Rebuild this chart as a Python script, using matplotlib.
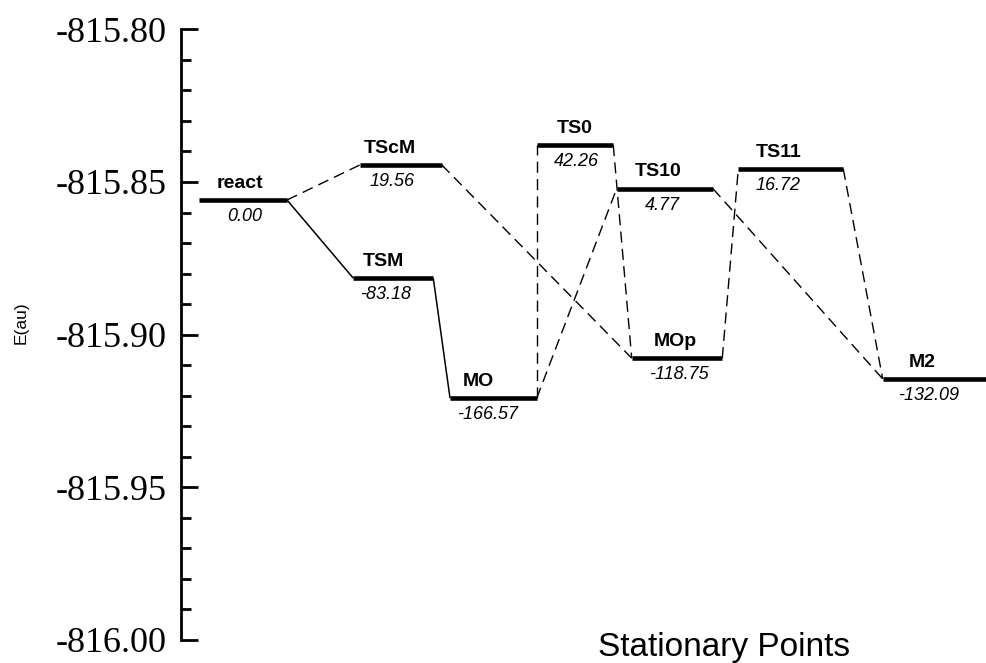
import matplotlib
matplotlib.use("Agg")
from matplotlib import pyplot as plt
from matplotlib.ticker import MultipleLocator, FuncFormatter

# stationary points (absolute energy in au, relative energy label)
names = ["react", "TScM", "TSM", "MO", "TS0", "TS10", "MOp", "TS11", "M2"]
energy = [-815.8559, -815.8444, -815.8815, -815.9208, -815.8379,
          -815.8522, -815.9077, -815.8457, -815.9145]
rel_energy = ["0.00", "19.56", "-83.18", "-166.57", "42.26",
              "4.77", "-118.75", "16.72", "-132.09"]

# connections between levels: (from, to, solid?)
links = [("react", "TScM", False), ("react", "TSM", True), ("TSM", "MO", True),
         ("TScM", "MOp", False), ("MO", "TS0", False), ("MO", "TS10", False),
         ("TS0", "MOp", False), ("TS10", "M2", False), ("MOp", "TS11", False),
         ("TS11", "M2", False)]

# layout: horizontal extent of each level and label centres
level_left = [0.224, 2.224, 2.140, 3.342, 4.419, 5.412, 5.599, 6.923, 8.717]
level_right = [1.317, 3.239, 3.134, 4.419, 5.370, 6.609, 6.724, 8.227, 10.2]
name_x = [0.733, 2.596, 2.509, 3.689, 4.894, 5.925, 6.137, 7.429, 9.205]
value_x = [0.795, 2.621, 2.547, 3.814, 4.907, 5.975, 6.186, 7.416, 9.292]

fig = plt.figure(figsize=(9.86, 6.63), dpi=100)
ax = fig.add_axes([181 / 986, 23 / 663, 1 - 181 / 986, (640 - 29.3) / 663])

idx = {n: i for i, n in enumerate(names)}

for a, b, solid in links:
    i, j = idx[a], idx[b]
    if solid:
        ax.plot([level_right[i], level_left[j]], [energy[i], energy[j]],
                color="black", lw=1.1, solid_capstyle="butt", clip_on=False)
    else:
        ax.plot([level_right[i], level_left[j]], [energy[i], energy[j]],
                color="black", lw=1.0, dashes=(8, 4.5), clip_on=False)

for i, n in enumerate(names):
    ax.plot([level_left[i], level_right[i]], [energy[i], energy[i]],
            color="black", lw=3.3, solid_capstyle="butt", clip_on=False)
    ax.annotate(n, (name_x[i], energy[i]), xytext=(0, 6), textcoords="offset points",
                ha="center", va="bottom", fontsize=14, fontweight="bold",
                family="Liberation Sans")
    ax.annotate(rel_energy[i], (value_x[i], energy[i]), xytext=(0, -6),
                textcoords="offset points", ha="center", va="top", fontsize=13,
                style="italic", family="Liberation Sans")

ax.set_xlim(0, 10)
ax.set_ylim(-816.0, -815.8)

for s in ["top", "right", "bottom"]:
    ax.spines[s].set_visible(False)
ax.spines["left"].set_linewidth(2)
ax.set_xticks([])

ax.yaxis.set_major_locator(MultipleLocator(0.05))
ax.yaxis.set_minor_locator(MultipleLocator(0.01))
ax.yaxis.set_major_formatter(FuncFormatter(lambda v, p: "%.2f" % v))
ax.tick_params(axis="y", which="major", direction="in", length=12.5, width=2,
               pad=10, labelsize=26)
ax.tick_params(axis="y", which="minor", direction="in", length=7, width=2)
for lab in ax.get_yticklabels():
    lab.set_family("Liberation Serif")

fig.text(21 / 986, 1 - 323 / 663, "E(au)", rotation=90, ha="center", va="center",
         fontsize=12.5, family="Liberation Sans")
fig.text(724 / 986, 1 - 656 / 663, "Stationary Points", ha="center", va="baseline",
         fontsize=24, family="Liberation Sans")

fig.savefig("out.png", dpi=100)
